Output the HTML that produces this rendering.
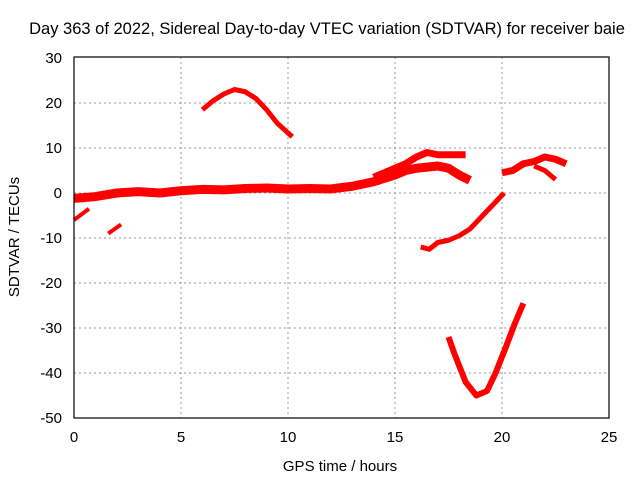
<!DOCTYPE html>
<html><head><meta charset="utf-8"><style>
body{margin:0;background:#fff}
svg text{font-family:"Liberation Sans",sans-serif;font-size:15px;fill:#000}
</style></head><body>
<svg id="c" width="640" height="480">
<text x="327" y="34" text-anchor="middle" style="font-size:16.5px">Day 363 of 2022, Sidereal Day-to-day VTEC variation (SDTVAR) for receiver baie</text>
<text x="340" y="471" text-anchor="middle">GPS time / hours</text>
<text transform="translate(19,237) rotate(-90)" text-anchor="middle">SDTVAR / TECUs</text>
<g id="grid"></g><g id="ticks"></g><g id="marks"></g>
<rect x="74" y="57" width="535" height="361" fill="none" stroke="#000" stroke-width="1.2"/>
</svg>
<script>
const xTicks=[0,5,10,15,20,25];
const yTicks=[30,20,10,0,-10,-20,-30,-40,-50];
const bandMain=[[0,-1.2],[0.5,-1],[1,-0.8],[2,0],[3,0.3],[4,0],[5,0.5],[6,0.8],[7,0.7],[8,1],[9,1.1],[10,0.9],[11,1],[12,0.9],[13,1.5],[14,2.5],[15,4],[15.5,5],[16,5.5],[17,6],[17.5,5.5],[18,4],[18.5,2.8]];
const bandUpper=[[14,3.5],[15,5.5],[15.5,6.5],[16,8],[16.5,9],[17,8.5],[18,8.5],[18.3,8.5]];
const bandRight=[[20,4.5],[20.5,5],[21,6.5],[21.5,7],[22,8],[22.5,7.5],[23,6.5]];
const bandRightLow=[[21.5,6],[22,5],[22.5,3]];
const arch=[[6,18.5],[6.5,20.5],[7,22],[7.5,23],[8,22.5],[8.5,21],[9,18.5],[9.5,15.5],[10.2,12.5]];
const seg1=[[0,-6],[0.7,-3.5]];
const seg2=[[1.6,-9],[2.2,-7]];
const rising=[[16.2,-12],[16.6,-12.5],[17,-11],[17.5,-10.5],[18,-9.5],[18.5,-8],[19,-5.5],[19.5,-3],[20.1,0]];
const vee=[[17.5,-32],[17.8,-36],[18.3,-42],[18.8,-45],[19.3,-44],[19.7,-40],[20.2,-34],[20.6,-29],[21,-24.5]];
const X=v=>74+v*21.4, Y=v=>193-v*4.5;
const NS="http://www.w3.org/2000/svg";
function mk(p,t,a){const e=document.createElementNS(NS,t);for(const k in a)e.setAttribute(k,a[k]);p.appendChild(e);return e;}
const g=document.getElementById('grid'),tk=document.getElementById('ticks'),m=document.getElementById('marks');
xTicks.forEach(v=>{
 if(v>0&&v<25){const l=mk(g,'line',{x1:X(v),x2:X(v),y1:57,y2:418,stroke:'#999','stroke-dasharray':'2,3'});
 
 }
 const t=mk(tk,'text',{x:X(v),y:442,'text-anchor':'middle'});t.textContent=v;
 
 
});
yTicks.forEach(v=>{
 if(v<30&&v>-50){const l=mk(g,'line',{x1:74,x2:609,y1:Y(v),y2:Y(v),stroke:'#999','stroke-dasharray':'2,3'});
 
 }
 const t=mk(tk,'text',{x:62,y:Y(v)+5,'text-anchor':'end'});t.textContent=v;
 
 
});
[[bandMain,9],[bandUpper,7],[bandRight,7],[bandRightLow,5],[arch,5],[seg1,4],[seg2,4],[rising,5],[vee,6]].forEach(([s,w])=>{
 const p=mk(m,'polyline',{points:s.map(d=>X(d[0])+','+Y(d[1])).join(' '),fill:'none',stroke:'#f00','stroke-width':w,'stroke-linejoin':'round'});
 
 
});
</script>
</body></html>
